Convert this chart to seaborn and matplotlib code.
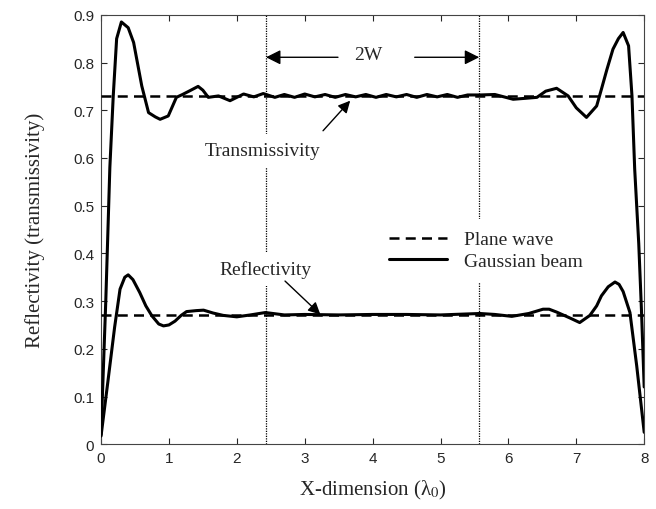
import numpy as np
import pandas as pd
import matplotlib
matplotlib.use("Agg")
import matplotlib.pyplot as plt
import seaborn as sns

# Gaussian beam transmissivity
x_trans = [0.0, 0.07, 0.13, 0.18, 0.23, 0.30, 0.40, 0.48, 0.60, 0.70, 0.80, 0.87,
           0.99, 1.11, 1.20, 1.31, 1.43, 1.50, 1.58, 1.73, 1.90, 2.10, 2.25, 2.39,
           2.56, 2.70, 2.85, 3.00, 3.15, 3.30, 3.45, 3.60, 3.75, 3.90, 4.05, 4.20,
           4.35, 4.50, 4.65, 4.80, 4.95, 5.10, 5.25, 5.40, 5.58, 5.80, 6.07, 6.25,
           6.42, 6.55, 6.71, 6.88, 7.00, 7.15, 7.30, 7.37, 7.45, 7.54, 7.62, 7.69,
           7.77, 7.82, 7.86, 7.92, 7.96, 8.0]
y_trans = [0.02, 0.30, 0.58, 0.73, 0.85, 0.885, 0.873, 0.842, 0.751, 0.695, 0.686, 0.681,
           0.688, 0.727, 0.733, 0.741, 0.750, 0.742, 0.727, 0.730, 0.720, 0.734, 0.728, 0.735,
           0.727, 0.733, 0.727, 0.734, 0.728, 0.733, 0.727, 0.733, 0.728, 0.733, 0.727, 0.733,
           0.728, 0.733, 0.727, 0.733, 0.728, 0.733, 0.727, 0.732, 0.732, 0.733, 0.723, 0.725,
           0.727, 0.740, 0.746, 0.730, 0.705, 0.685, 0.709, 0.744, 0.785, 0.828, 0.850, 0.863,
           0.835, 0.730, 0.577, 0.42, 0.28, 0.12]

# Gaussian beam reflectivity
x_refl = [0.0, 0.10, 0.20, 0.28, 0.35, 0.40, 0.47, 0.57, 0.66, 0.75, 0.85, 0.92,
          1.00, 1.09, 1.18, 1.26, 1.40, 1.51, 1.65, 1.80, 2.00, 2.20, 2.42, 2.70,
          3.00, 3.50, 4.00, 4.50, 5.00, 5.58, 5.80, 6.05, 6.30, 6.51, 6.60, 6.71,
          6.90, 7.05, 7.20, 7.30, 7.37, 7.47, 7.57, 7.63, 7.69, 7.79, 7.89, 8.0]
y_refl = [0.017, 0.13, 0.245, 0.325, 0.350, 0.355, 0.345, 0.318, 0.290, 0.269, 0.252, 0.248,
          0.250, 0.258, 0.270, 0.278, 0.280, 0.281, 0.275, 0.270, 0.267, 0.271, 0.276, 0.271,
          0.272, 0.271, 0.272, 0.272, 0.271, 0.274, 0.272, 0.268, 0.274, 0.283, 0.283, 0.277,
          0.265, 0.255, 0.270, 0.290, 0.311, 0.330, 0.340, 0.335, 0.320, 0.276, 0.164, 0.025]

# plane wave levels
plane_trans = 0.73
plane_refl = 0.27
x_plane = [0.0, 8.0]

w_edges = [2.43, 5.57]

sns.set_style("ticks")
plt.rcParams['font.family'] = ['Liberation Sans', 'DejaVu Sans']
plt.rcParams['mathtext.fontset'] = 'stix'
serif = ['Liberation Serif', 'DejaVu Serif']

fig = plt.figure(figsize=(6.56, 5.10), dpi=100)
ax = fig.add_axes([0.154, 0.127, 0.828, 0.842])

df_t = pd.DataFrame({"x": x_trans, "y": y_trans})
df_r = pd.DataFrame({"x": x_refl, "y": y_refl})
df_p = pd.DataFrame({"x": x_plane * 2,
                     "y": [plane_trans] * 2 + [plane_refl] * 2,
                     "kind": ["T", "T", "R", "R"]})

for k, lab in [("T", "Plane wave"), ("R", None)]:
    sns.lineplot(data=df_p[df_p["kind"] == k], x="x", y="y", ax=ax, color="black",
                 lw=1.8, linestyle=(0, (4, 2.5)), label=lab, legend=False, zorder=3)
sns.lineplot(data=df_t, x="x", y="y", ax=ax, color="black", lw=2.2,
             label="Gaussian beam", legend=False, sort=False, zorder=4)
sns.lineplot(data=df_r, x="x", y="y", ax=ax, color="black", lw=2.2,
             legend=False, sort=False, zorder=4)

for xv in w_edges:
    ax.axvline(xv, color="black", lw=0.9, linestyle=(0, (1, 1)), zorder=1)

arrow = dict(arrowstyle="-|>", color="black", lw=1.0, shrinkA=0, shrinkB=0)

# 2W arrows
ax.text(3.93, 0.817, "2W", ha="center", va="center", fontsize=14, family=serif)
ax.annotate("", xy=(w_edges[0], 0.811), xytext=(3.49, 0.811),
            arrowprops=dict(arrow, mutation_scale=22), zorder=7)
ax.annotate("", xy=(w_edges[1], 0.811), xytext=(4.62, 0.811),
            arrowprops=dict(arrow, mutation_scale=22), zorder=7)

box = dict(facecolor="white", edgecolor="none", pad=6)
ax.text(2.38, 0.615, "Transmissivity", ha="center", va="center", fontsize=14,
        family=serif, bbox=box, zorder=5)
ax.annotate("", xy=(3.67, 0.72), xytext=(3.27, 0.657),
            arrowprops=dict(arrow, mutation_scale=18), zorder=7)
ax.text(2.42, 0.367, "Reflectivity", ha="center", va="center", fontsize=14,
        family=serif, bbox=box, zorder=5)
ax.annotate("", xy=(3.23, 0.272), xytext=(2.71, 0.342),
            arrowprops=dict(arrow, mutation_scale=18), zorder=7)

leg = ax.legend(loc="upper left", bbox_to_anchor=(0.49, 0.547), frameon=True,
                facecolor="white", edgecolor="none", framealpha=1, fancybox=False,
                handlelength=3.0, handletextpad=0.9, labelspacing=0.2,
                prop={"family": serif, "size": 14}, borderpad=0.6)
leg.set_zorder(6)

ax.set_xlim(0, 8)
ax.set_ylim(0, 0.9)
ax.set_xticks(range(0, 9))
ax.set_yticks(np.round(np.arange(0, 0.91, 0.1), 1))
ax.set_yticklabels(["0", "0.1", "0.2", "0.3", "0.4", "0.5", "0.6", "0.7", "0.8", "0.9"])
ax.tick_params(direction="in", length=4, width=0.8, top=True, right=True,
               labelsize=11, pad=5)
for s in ax.spines.values():
    s.set_linewidth(0.8)
    s.set_color("#444444")

ax.set_xlabel("X-dimension (λ$_0$)", fontsize=15, family=serif, labelpad=9)
ax.set_ylabel("Reflectivity (transmissivity)", fontsize=15, family=serif, labelpad=20)

plt.savefig("out.png", dpi=100)
plt.close()
